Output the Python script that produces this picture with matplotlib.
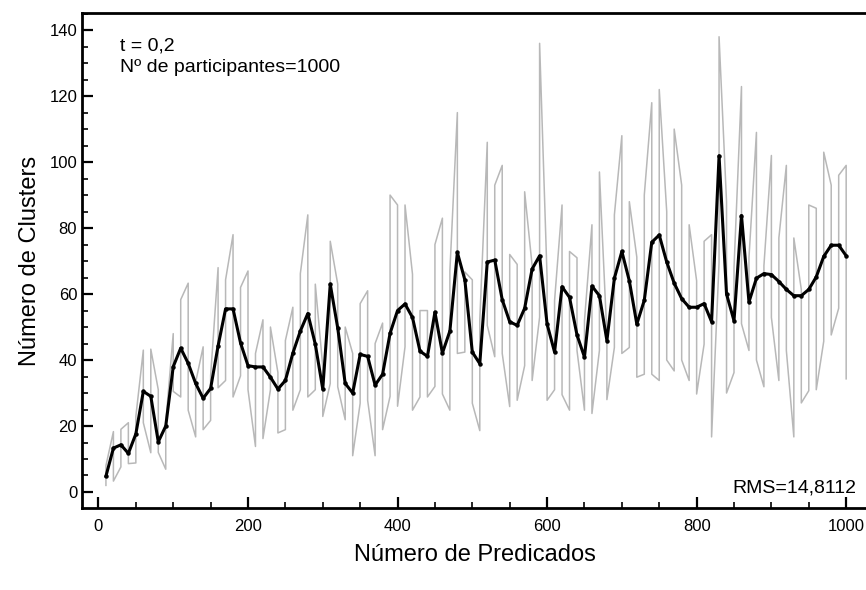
import matplotlib.pyplot as plt
from matplotlib.ticker import MultipleLocator

plt.rcParams['font.family'] = ['Liberation Sans', 'DejaVu Sans']

# x positions (number of predicates)
predicados = list(range(10, 1001, 10))

# mean number of clusters (black line)
media = [4.8, 13.3, 14.3, 11.7, 17.6, 30.5, 29.0, 15.2, 20.0, 38.0,
         43.6, 39.0, 32.9, 28.4, 31.4, 44.3, 55.5, 55.5, 45.2, 38.3,
         37.9, 37.9, 34.8, 31.2, 33.8, 42.1, 48.8, 54.1, 44.8, 31.2,
         63.0, 49.7, 32.9, 30.0, 41.7, 41.1, 32.4, 35.7, 48.1, 55.0,
         57.0, 52.9, 42.7, 41.1, 54.5, 42.1, 48.8, 72.6, 64.3, 42.4,
         38.9, 69.7, 70.3, 58.3, 51.6, 50.5, 55.7, 67.6, 71.6, 50.9,
         42.4, 62.2, 59.0, 47.6, 40.9, 62.4, 59.5, 45.9, 64.8, 72.9,
         64.0, 50.9, 58.1, 75.7, 77.9, 69.7, 63.3, 58.6, 56.0, 56.0,
         57.1, 51.6, 101.9, 60.0, 51.9, 83.8, 57.6, 64.8, 66.2, 65.9,
         63.8, 61.4, 59.5, 59.5, 61.4, 65.2, 71.4, 74.8, 74.8, 71.6]

# spread of the individual runs at each x (grey line)
minimo = [2.0, 3.3, 7.6, 8.6, 8.8, 21.0, 11.9, 12.0, 6.9, 30.5,
          28.8, 24.8, 16.7, 18.9, 21.7, 31.6, 33.8, 28.8, 35.2, 31.0,
          13.8, 16.2, 31.0, 17.9, 18.9, 24.8, 31.0, 28.8, 31.0, 22.9,
          32.9, 31.9, 21.9, 11.0, 26.9, 27.8, 11.0, 18.9, 29.0, 26.0,
          44.0, 24.8, 28.8, 28.8, 32.0, 29.7, 24.8, 42.0, 42.4, 26.9,
          18.6, 50.5, 41.0, 42.0, 25.9, 27.8, 38.3, 33.8, 53.0, 27.8,
          31.0, 29.5, 24.8, 42.9, 24.8, 23.8, 42.9, 28.0, 43.8, 42.0,
          43.8, 34.8, 35.7, 35.7, 33.8, 40.0, 36.7, 40.0, 33.8, 29.7,
          44.8, 16.7, 69.5, 30.0, 36.2, 51.0, 42.9, 40.0, 31.9, 52.9,
          33.8, 42.9, 16.7, 27.0, 30.7, 31.0, 45.7, 47.6, 55.7, 34.3]
maximo = [8.0, 18.3, 19.0, 21.0, 22.9, 43.0, 43.3, 31.0, 21.0, 48.0,
          58.3, 63.3, 33.3, 44.0, 35.2, 68.0, 64.3, 78.0, 62.0, 67.0,
          42.0, 52.2, 50.0, 36.2, 45.9, 56.0, 66.2, 84.0, 63.0, 38.0,
          76.0, 63.0, 50.0, 42.0, 57.1, 61.0, 45.0, 51.2, 90.0, 87.0,
          87.0, 66.0, 55.0, 55.0, 75.0, 83.0, 67.0, 115.0, 66.7, 64.3,
          52.2, 106.0, 93.0, 99.0, 72.0, 69.0, 91.0, 68.6, 136.0, 65.0,
          58.0, 87.0, 72.9, 71.0, 51.9, 81.0, 97.0, 47.6, 84.0, 108.0,
          88.0, 71.2, 90.0, 118.0, 122.0, 85.0, 110.0, 93.0, 81.0, 64.0,
          76.0, 78.0, 138.0, 88.0, 68.0, 122.9, 71.0, 109.0, 68.6, 102.0,
          77.0, 99.0, 77.0, 61.4, 87.0, 86.0, 103.0, 93.0, 96.0, 99.0]

# grey path: go up and down at every x
gx, gy = [], []
for i, (x, lo, hi) in enumerate(zip(predicados, minimo, maximo)):
    gx += [x, x]
    gy += [lo, hi] if i % 2 == 0 else [hi, lo]

fig = plt.figure(figsize=(8.66, 5.90), dpi=100)
ax = fig.add_axes([0.0947, 0.139, 0.9083, 0.839])

ax.plot(gx, gy, color='#b8b8b8', linewidth=1.1, zorder=1)
ax.plot(predicados, media, color='black', linewidth=2.2,
        marker='o', markersize=2.2, zorder=2)

ax.set_xlim(-22, 1030)
ax.set_ylim(-4.85, 145.2)
ax.set_xticks(range(0, 1001, 200))
ax.set_yticks(range(0, 141, 20))
ax.xaxis.set_minor_locator(MultipleLocator(50))
ax.yaxis.set_minor_locator(MultipleLocator(5))
ax.tick_params(which='both', direction='in', top=False, right=False,
               labelsize=12)
ax.tick_params(which='major', length=8, width=1.6)
ax.tick_params(which='minor', length=4, width=1.2)
ax.tick_params(axis='x', which='major', pad=8)
for s in ax.spines.values():
    s.set_linewidth(2)

ax.set_xlabel('Número de Predicados', fontsize=17, labelpad=7)
ax.set_ylabel('Número de Clusters', fontsize=17, labelpad=6)

ax.text(0.048, 0.95, 't = 0,2\nNº de participantes=1000',
        transform=ax.transAxes, fontsize=14, va='top', ha='left',
        linespacing=1.3)
ax.text(0.985, 0.024, 'RMS=14,8112', transform=ax.transAxes,
        fontsize=14, ha='right', va='bottom')

fig.savefig('out.png', dpi=100)
